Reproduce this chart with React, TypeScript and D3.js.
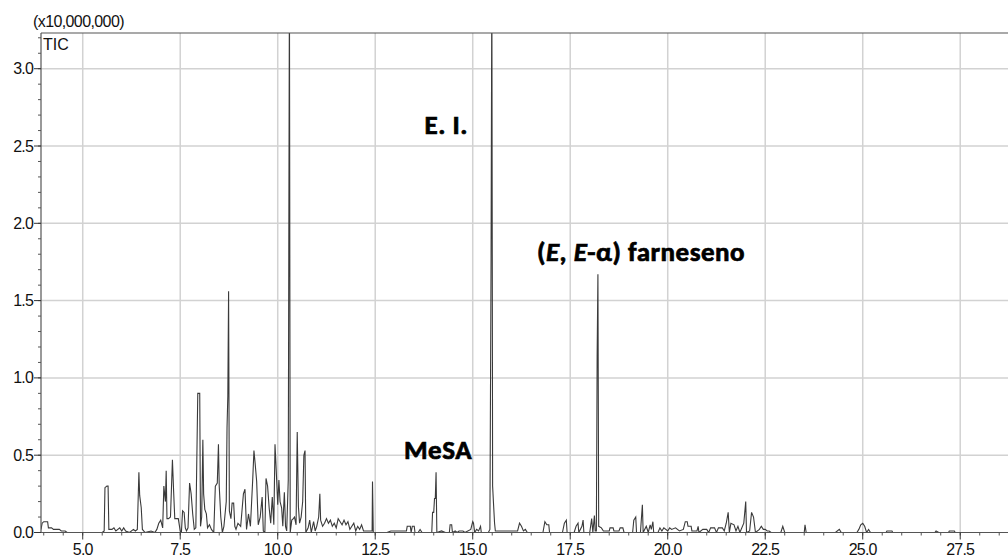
import React from 'react';
import * as d3 from 'd3';

// retention time (min) vs TIC intensity (x10,000,000)
const trace: [number, number][] = [
  [3.93, 0.02], [3.96, 0.06], [4.0, 0.07], [4.1, 0.07], [4.12, 0.03], [4.2, 0.03], [4.25, 0.02], [4.4, 0.02],
  [4.45, 0.01], [4.55, 0.01], [4.6, 0.0], [5.5, 0.0], [5.55, 0.01], [5.57, 0.29], [5.62, 0.3], [5.65, 0.3],
  [5.67, 0.02], [5.75, 0.02], [5.8, 0.03], [5.85, 0.01], [5.95, 0.03], [6.0, 0.01], [6.05, 0.03], [6.1, 0.01],
  [6.2, 0.0], [6.3, 0.02], [6.35, 0.01], [6.4, 0.02], [6.44, 0.39], [6.46, 0.24], [6.5, 0.16], [6.53, 0.02],
  [6.6, 0.0], [6.75, 0.01], [6.85, 0.0], [6.9, 0.02], [6.95, 0.06], [7.0, 0.08], [7.05, 0.03], [7.08, 0.3],
  [7.12, 0.2], [7.14, 0.4], [7.16, 0.09], [7.2, 0.09], [7.25, 0.1], [7.3, 0.47], [7.33, 0.27], [7.36, 0.09],
  [7.45, 0.09], [7.5, 0.01], [7.53, 0.0], [7.56, 0.14], [7.6, 0.13], [7.63, 0.03], [7.66, 0.01], [7.7, 0.03],
  [7.74, 0.32], [7.78, 0.25], [7.82, 0.12], [7.86, 0.02], [7.9, 0.03], [7.95, 0.9], [8.0, 0.9], [8.02, 0.04],
  [8.05, 0.1], [8.08, 0.6], [8.1, 0.25], [8.13, 0.15], [8.17, 0.12], [8.2, 0.03], [8.25, 0.05], [8.3, 0.02],
  [8.36, 0.0], [8.4, 0.3], [8.45, 0.32], [8.48, 0.57], [8.5, 0.3], [8.54, 0.1], [8.58, 0.0], [8.62, 0.04],
  [8.68, 0.2], [8.7, 0.68], [8.72, 0.88], [8.74, 1.56], [8.76, 0.14], [8.8, 0.09], [8.83, 0.19], [8.87, 0.19],
  [8.9, 0.04], [8.93, 0.02], [8.98, 0.06], [9.05, 0.04], [9.12, 0.25], [9.16, 0.28], [9.2, 0.02], [9.25, 0.12],
  [9.3, 0.04], [9.36, 0.35], [9.39, 0.53], [9.42, 0.45], [9.46, 0.33], [9.5, 0.05], [9.55, 0.1], [9.6, 0.23],
  [9.63, 0.01], [9.67, 0.0], [9.7, 0.35], [9.74, 0.3], [9.78, 0.16], [9.82, 0.06], [9.86, 0.23], [9.9, 0.05],
  [9.93, 0.57], [9.96, 0.41], [10.0, 0.18], [10.03, 0.34], [10.06, 0.2], [10.1, 0.16], [10.13, 0.04], [10.17, 0.26],
  [10.2, 0.04], [10.23, 0.01], [10.27, 0.34], [10.3, 3.6], [10.32, 0.0], [10.36, 0.08], [10.4, 0.09], [10.43, 0.1],
  [10.47, 0.05], [10.5, 0.65], [10.53, 0.17], [10.56, 0.06], [10.6, 0.1], [10.64, 0.2], [10.67, 0.5], [10.7, 0.53],
  [10.72, 0.0], [10.78, 0.03], [10.82, 0.08], [10.86, 0.0], [10.92, 0.07], [10.96, 0.01], [11.0, 0.04], [11.05, 0.1],
  [11.08, 0.25], [11.1, 0.08], [11.15, 0.04], [11.2, 0.06], [11.25, 0.09], [11.3, 0.06], [11.35, 0.08], [11.4, 0.04],
  [11.45, 0.06], [11.5, 0.03], [11.55, 0.09], [11.6, 0.07], [11.65, 0.05], [11.7, 0.08], [11.75, 0.05], [11.8, 0.07],
  [11.85, 0.02], [11.9, 0.04], [11.95, 0.06], [12.0, 0.01], [12.05, 0.04], [12.1, 0.02], [12.15, 0.05], [12.2, 0.01],
  [12.3, 0.01], [12.42, 0.01], [12.43, 0.33], [12.45, 0.0], [12.8, 0.0], [12.9, 0.01], [13.3, 0.01], [13.32, 0.04],
  [13.4, 0.04], [13.42, 0.0], [13.45, 0.04], [13.5, 0.04], [13.52, 0.0], [13.6, 0.0], [13.65, 0.02], [13.7, 0.0],
  [13.95, 0.0], [13.97, 0.13], [14.0, 0.13], [14.02, 0.22], [14.04, 0.22], [14.06, 0.39], [14.08, 0.0], [14.2, 0.01],
  [14.3, 0.0], [14.4, 0.0], [14.42, 0.05], [14.46, 0.05], [14.48, 0.0], [14.55, 0.01], [14.6, 0.0], [14.65, 0.01],
  [14.75, 0.01], [14.8, 0.0], [14.95, 0.02], [15.0, 0.07], [15.02, 0.06], [15.05, 0.0], [15.1, 0.02], [15.15, 0.01],
  [15.2, 0.04], [15.22, 0.0], [15.4, 0.0], [15.44, 0.02], [15.47, 1.77], [15.49, 3.6], [15.51, 0.3], [15.53, 0.2],
  [15.56, 0.06], [15.58, 0.01], [16.15, 0.01], [16.2, 0.06], [16.25, 0.04], [16.3, 0.01], [16.35, 0.02], [16.4, 0.0],
  [16.8, 0.0], [16.85, 0.07], [16.9, 0.05], [16.95, 0.05], [16.97, 0.0], [17.3, 0.0], [17.35, 0.06], [17.4, 0.08],
  [17.42, 0.0], [17.6, 0.0], [17.65, 0.04], [17.7, 0.06], [17.72, 0.0], [17.8, 0.04], [17.83, 0.08], [17.85, 0.0],
  [18.0, 0.0], [18.05, 0.09], [18.08, 0.0], [18.12, 0.11], [18.14, 0.01], [18.17, 0.01], [18.19, 1.14], [18.21, 1.67],
  [18.23, 0.04], [18.3, 0.03], [18.35, 0.01], [18.5, 0.01], [18.52, 0.03], [18.6, 0.03], [18.62, 0.01], [18.75, 0.01],
  [18.78, 0.03], [18.85, 0.03], [18.88, 0.0], [19.1, 0.0], [19.13, 0.08], [19.18, 0.1], [19.2, 0.0], [19.3, 0.0],
  [19.35, 0.18], [19.37, 0.0], [19.45, 0.04], [19.5, 0.0], [19.55, 0.05], [19.58, 0.02], [19.62, 0.07], [19.64, 0.0],
  [19.75, 0.0], [19.8, 0.03], [19.85, 0.01], [19.9, 0.03], [20.0, 0.01], [20.05, 0.03], [20.1, 0.02], [20.2, 0.03],
  [20.3, 0.01], [20.4, 0.02], [20.45, 0.07], [20.5, 0.07], [20.52, 0.04], [20.6, 0.04], [20.62, 0.01], [20.75, 0.01],
  [20.78, 0.04], [20.8, 0.0], [20.9, 0.02], [21.0, 0.02], [21.05, 0.0], [21.1, 0.03], [21.2, 0.03], [21.25, 0.0],
  [21.3, 0.03], [21.4, 0.03], [21.45, 0.01], [21.5, 0.06], [21.55, 0.13], [21.58, 0.0], [21.62, 0.06], [21.7, 0.05],
  [21.75, 0.01], [21.8, 0.04], [21.85, 0.0], [21.95, 0.06], [22.0, 0.2], [22.02, 0.0], [22.1, 0.01], [22.15, 0.13],
  [22.2, 0.1], [22.25, 0.0], [22.35, 0.02], [22.4, 0.04], [22.45, 0.02], [22.5, 0.02], [22.55, 0.01], [22.6, 0.01],
  [22.65, 0.0], [22.9, 0.0], [22.95, 0.04], [23.0, 0.0], [23.5, 0.0], [23.52, 0.05], [23.55, 0.0], [24.3, 0.0],
  [24.4, 0.02], [24.45, 0.0], [24.85, 0.0], [24.9, 0.02], [24.95, 0.05], [25.0, 0.06], [25.05, 0.04], [25.1, 0.0],
  [25.15, 0.02], [25.2, 0.0], [25.6, 0.0], [25.62, 0.01], [25.75, 0.01], [25.77, 0.0], [26.85, 0.0], [26.88, 0.01],
  [26.95, 0.0], [27.2, 0.0], [27.22, 0.01], [27.35, 0.01], [27.37, 0.0], [28.9, 0.0],
];

const xTicks = [5.0, 7.5, 10.0, 12.5, 15.0, 17.5, 20.0, 22.5, 25.0, 27.5];
const yTicks = [0.0, 0.5, 1.0, 1.5, 2.0, 2.5, 3.0];

const W = 1008;
const H = 558;
const left = 41;
const top = 33;
const bottom = 532.5;

export default function App() {
  const x = d3.scaleLinear().domain([3.93, 28.9]).range([left, left + (28.9 - 3.93) * 39]);
  const y = d3.scaleLinear().domain([0, 3.231]).range([bottom, top]);

  const minorX = d3.range(4.0, 28.9, 0.5);
  const minorY = d3.range(0, 3.23, 0.1);

  const line = d3.line<[number, number]>().x(d => x(d[0])).y(d => y(d[1]));
  const numFont = 'Liberation Sans, Arial, sans-serif';
  const labFont = 'Carlito, Lato, sans-serif';
  const lab = { fontFamily: labFont, fontWeight: 700, fontSize: 27, letterSpacing: 0.5, fill: '#000', stroke: '#000', strokeWidth: 0.7 };

  return (
    <svg width={W} height={H} style={{ position: 'absolute', left: 0, top: 0, background: '#fff' }}>
      <defs>
        <clipPath id="plot">
          <rect x={left} y={top} width={W - left + 10} height={bottom - top} />
        </clipPath>
      </defs>
      {/* grid */}
      {xTicks.map(t => (
        <line key={'gx' + t} x1={x(t)} x2={x(t)} y1={top} y2={bottom} stroke="#d2d2d2" strokeWidth={1.5} />
      ))}
      {yTicks.filter(t => t > 0).map(t => (
        <line key={'gy' + t} x1={left} x2={W + 5} y1={y(t)} y2={y(t)} stroke="#d2d2d2" strokeWidth={1.5} />
      ))}

      <path d={line(trace) || ''} fill="none" stroke="#3a3a3a" strokeWidth={1.1} clipPath="url(#plot)" />

      {/* frame */}
      <line x1={left} x2={W + 5} y1={top} y2={top} stroke="#555" strokeWidth={1.2} />
      <line x1={left} x2={left} y1={top} y2={bottom} stroke="#555" strokeWidth={1.2} />
      <line x1={left} x2={W + 5} y1={bottom} y2={bottom} stroke="#555" strokeWidth={1.2} />

      {/* ticks */}
      {minorX.map(t => (
        <line key={'mx' + t} x1={x(t)} x2={x(t)} y1={bottom} y2={bottom + 3} stroke="#555" />
      ))}
      {xTicks.map(t => (
        <line key={'tx' + t} x1={x(t)} x2={x(t)} y1={bottom} y2={bottom + 7} stroke="#333" />
      ))}
      {minorY.map(t => (
        <line key={'my' + t} x1={left - 3} x2={left} y1={y(t)} y2={y(t)} stroke="#555" />
      ))}
      {yTicks.map(t => (
        <line key={'ty' + t} x1={left - 7} x2={left} y1={y(t)} y2={y(t)} stroke="#333" />
      ))}

      {xTicks.map(t => (
        <text key={'lx' + t} x={x(t)} y={555} textAnchor="middle" fontFamily={numFont} fontSize={16}
          letterSpacing={-0.8} fill="#111">{t.toFixed(1)}</text>
      ))}
      {yTicks.map(t => (
        <text key={'ly' + t} x={33} y={y(t) + 5.5} textAnchor="end" fontFamily={numFont} fontSize={16}
          letterSpacing={-0.8} fill="#111">{t.toFixed(1)}</text>
      ))}

      <text x={33} y={27} fontFamily={numFont} fontSize={16} letterSpacing={-0.6} fill="#111">(x10,000,000)</text>
      <text x={43} y={50} fontFamily={numFont} fontSize={16} fill="#111">TIC</text>

      {/* annotations */}
      <text x={468} y={134} textAnchor="end" {...lab}>E. I.</text>
      <text x={472} y={459} textAnchor="end" {...lab}>MeSA</text>
      <text x={537} y={261} {...lab}>
        (<tspan fontStyle="italic">E</tspan>, <tspan fontStyle="italic">E</tspan>-α) farneseno
      </text>
    </svg>
  );
}
